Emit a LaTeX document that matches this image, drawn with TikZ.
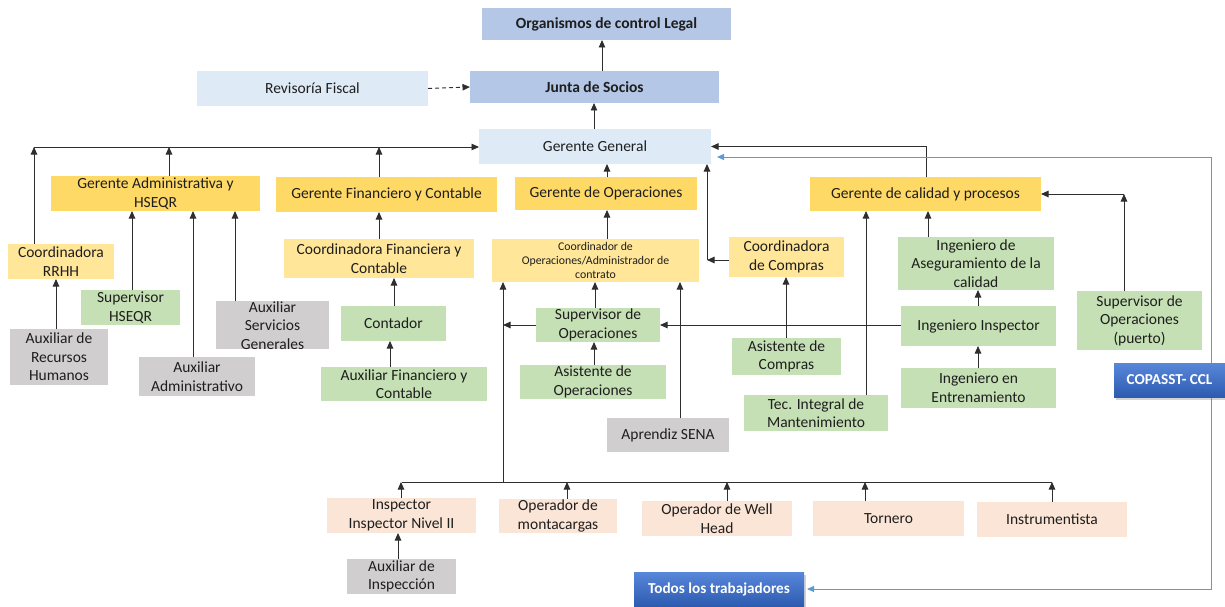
\documentclass[tikz,border=0pt]{standalone}
\usepackage{fontspec}
\setmainfont{Carlito}
\usetikzlibrary{arrows.meta,shadows}
\definecolor{cOrg}{HTML}{B4C7E7}
\definecolor{cLight}{HTML}{DEEBF7}
\definecolor{cGer}{HTML}{FFD966}
\definecolor{cCoord}{HTML}{FFE699}
\definecolor{cGreen}{HTML}{C5E0B4}
\definecolor{cGray}{HTML}{D0CECE}
\definecolor{cPeach}{HTML}{FBE5D6}
\definecolor{cLine}{HTML}{2E2E2E}
\definecolor{cBlueL}{HTML}{5B9BD5}
\definecolor{cTop}{HTML}{5887DA}
\definecolor{cBot}{HTML}{2D5BB0}
\definecolor{cTxt}{HTML}{1E1E1E}
\newcommand{\mainsz}{\fontsize{15.5}{18.6}\selectfont}
\newcommand{\smallsz}{\fontsize{11.8}{14.2}\selectfont}
\begin{document}
\begin{tikzpicture}[x=1pt,y=-1pt,
  box/.style={inner sep=0pt, outer sep=0pt, align=center, font=\mainsz, text=cTxt},
  sz/.style 2 args={minimum width=#1pt, minimum height=#2pt},
  arr/.style={draw=cLine, line width=0.95pt, -{Triangle[length=7.5pt,width=6.5pt]}},
  ln/.style={draw=cLine, line width=0.95pt},
  barr/.style={draw=cBlueL, line width=1pt, {Triangle[length=7pt,width=6pt]}-{Triangle[length=7pt,width=6pt]}},
  bluebox/.style={inner sep=0pt, outer sep=0pt, top color=cTop, bottom color=cBot, text=white,
    font=\fontsize{15.2}{18}\selectfont\bfseries,
    drop shadow={opacity=0.35, shadow xshift=1.5pt, shadow yshift=-2.5pt}}]
\useasboundingbox (0,0) rectangle (1225,607);

% top
\node[box, fill=cOrg, sz={249}{32}, font=\mainsz\bfseries] (org) at (606.5,24) {Organismos de control Legal};
\node[box, fill=cOrg, sz={249}{32}, font=\mainsz\bfseries] (junta) at (594.5,87) {Junta de Socios};
\node[box, fill=cLight, sz={231}{35}] (rev) at (312.5,88.5) {Revisoría Fiscal};
\node[box, fill=cLight, sz={232}{35}] (gg) at (595,146.5) {Gerente General};

% gerentes
\node[box, fill=cGer, sz={209}{35}] (gadm) at (155.5,193.5) {Gerente Administrativa y\\HSEQR};
\node[box, fill=cGer, sz={221}{35}] (gfin) at (386.5,194.5) {Gerente Financiero y Contable};
\node[box, fill=cGer, sz={182}{33}] (gops) at (606,193.5) {Gerente de Operaciones};
\node[box, fill=cGer, sz={231}{34}] (gcal) at (925.5,194) {Gerente de calidad y procesos};

% coordinadores
\node[box, fill=cCoord, sz={106}{35}] (rrhh) at (61,261.5) {Coordinadora\\RRHH};
\node[box, fill=cCoord, sz={190}{39}] (cfin) at (379,258.5) {Coordinadora Financiera y\\Contable};
\node[box, fill=cCoord, sz={207}{43}, font=\smallsz] (cops) at (595.5,260.5) {Coordinador de\\Operaciones/Administrador de\\contrato};
\node[box, fill=cCoord, sz={115}{40}] (ccomp) at (786.5,257) {Coordinadora\\de Compras};
\node[box, fill=cGreen, sz={156}{53}] (iac) at (976,263.5) {Ingeniero de\\Aseguramiento de la\\calidad};

% left branch
\node[box, fill=cGreen, sz={99}{35}] (suphse) at (130.5,307.5) {Supervisor\\HSEQR};
\node[box, fill=cGray, sz={98}{56}] (auxrh) at (59,357) {Auxiliar de\\Recursos\\Humanos};
\node[box, fill=cGray, sz={116}{39}] (auxadm) at (197,376.5) {Auxiliar\\Administrativo};
\node[box, fill=cGray, sz={113}{48}] (auxsg) at (272.5,325) {};
\node[box] at (272.5,325.5) {Auxiliar\\Servicios\\Generales};
\node[box, fill=cGreen, sz={105}{35}] (cont) at (393.5,323.5) {Contador};
\node[box, fill=cGreen, sz={166}{34}] (auxfin) at (404,384) {Auxiliar Financiero y\\Contable};

% middle
\node[box, fill=cGreen, sz={124}{34}] (supops) at (598,325) {Supervisor de\\Operaciones};
\node[box, fill=cGreen, sz={146}{34}] (asops) at (593,382) {Asistente de\\Operaciones};
\node[box, fill=cGray, sz={122}{34}] (sena) at (668,435) {Aprendiz SENA};
\node[box, fill=cGreen, sz={109}{37}] (ascomp) at (786.5,356.5) {Asistente de\\Compras};
\node[box, fill=cGreen, sz={144}{36}] (tec) at (816,413) {Tec. Integral de\\Mantenimiento};

% right
\node[box, fill=cGreen, sz={155}{40}] (ii) at (978.5,326) {Ingeniero Inspector};
\node[box, fill=cGreen, sz={155}{40}] (ient) at (978.5,388) {Ingeniero en\\Entrenamiento};
\node[box, fill=cGreen, sz={125}{59}] (supp) at (1139.5,320.5) {Supervisor de\\Operaciones\\(puerto)};

% bottom
\node[box, fill=cPeach, sz={149}{35}] (insp) at (401.5,515.5) {Inspector\\Inspector Nivel II};
\node[box, fill=cPeach, sz={118}{34}] (montac) at (558,516) {Operador de\\montacargas};
\node[box, fill=cPeach, sz={150}{35}] (well) at (717,518.5) {Operador de Well\\Head};
\node[box, fill=cPeach, sz={151}{35}] (torn) at (888.5,518.5) {Tornero};
\node[box, fill=cPeach, sz={150}{35}] (instr) at (1052,519.5) {Instrumentista};
\node[box, fill=cGray, sz={109}{35}] (auxinsp) at (401.5,576.5) {Auxiliar de\\Inspección};
\node[bluebox, sz={170}{34}] (todos) at (719,589) {Todos los trabajadores};

% connectors top
\draw[arr] (junta.north -| 602,0) -- (org.south -| 602,0);
\draw[arr] (gg.north -| 594,0) -- (junta.south -| 594,0);
\draw[arr, dash pattern=on 4pt off 3pt] (rev.east) -- (junta.west);

% left bus
\coordinate (busL) at (34,147);
\draw[arr] (busL) -- (gg.west |- busL);
\draw[arr] (rrhh.north -| busL) -- (busL);
\draw[arr] (gadm.north -| 169,0) -- (busL -| 169,0);
\draw[arr] (gfin.north -| 379,0) -- (busL -| 379,0);

% operations
\draw[arr] (gops.north -| 607,0) -- (gg.south -| 607,0);
\draw[arr] (cops.north -| 607,0) -- (gops.south -| 607,0);
\coordinate (cc) at (707,260);
\draw[arr] (ccomp.west |- cc) -- (cc);
\draw[arr] (cc) -- (gg.south -| cc);
\draw[arr] (gcal.north -| 926,0) |- (gg.east);

% calidad
\coordinate (cp) at (1124,194);
\draw[arr] (supp.north -| cp) -- (cp);
\draw[arr] (cp) -- (gcal.east |- cp);
\draw[arr] (iac.north -| 928,0) -- (gcal.south -| 928,0);
\draw[arr] (tec.north -| 866,0) -- (gcal.south -| 866,0);
\draw[arr] (ii.north -| 978,0) -- (iac.south -| 978,0);
\draw[arr] (ient.north -| 978,0) -- (ii.south -| 978,0);
\draw[arr] (ii.west |- 0,325) -- (supops.east |- 0,325);

% ops column
\coordinate (busB) at (503,482);
\draw[arr] (supops.west |- 0,325) -- (busB |- 0,325);
\draw[arr] (busB) -- (cops.south -| busB);
\draw[arr] (supops.north -| 595,0) -- (cops.south -| 595,0);
\draw[arr] (asops.north -| 594,0) -- (supops.south -| 594,0);
\draw[arr] (sena.north -| 680,0) -- (cops.south -| 680,0);
\draw[arr] (ascomp.north -| 786,0) -- (ccomp.south -| 786,0);

% finance
\draw[arr] (cfin.north -| 379,0) -- (gfin.south -| 379,0);
\draw[arr] (cont.north -| 394,0) -- (cfin.south -| 394,0);
\draw[arr] (auxfin.north -| 390,0) -- (cont.south -| 390,0);

% admin
\draw[arr] (suphse.north -| 132,0) -- (gadm.south -| 132,0);
\draw[arr] (auxadm.north -| 193,0) -- (gadm.south -| 193,0);
\draw[arr] (auxsg.north -| 235,0) -- (gadm.south -| 235,0);
\draw[arr] (auxrh.north -| 56,0) -- (rrhh.south -| 56,0);

% bottom bus
\draw[ln] (insp.north |- busB) -- (instr.north |- busB);
\draw[arr] (insp.north -| 401,0) -- (busB -| 401,0);
\draw[arr] (montac.north -| 567,0) -- (busB -| 567,0);
\draw[arr] (well.north -| 727,0) -- (busB -| 727,0);
\draw[arr] (torn.north -| 865,0) -- (busB -| 865,0);
\draw[arr] (instr.north) -- (instr.north |- busB);
\draw[arr] (auxinsp.north -| 398,0) -- (insp.south -| 398,0);

% blue COPASST loop
\draw[barr, shorten <=3pt, shorten >=6pt] (todos.east) -| (1211,157) -- (gg.east |- 0,157);
\node[bluebox, sz={111}{34}] (copasst) at (1169.5,380) {COPASST- CCL};
\end{tikzpicture}
\end{document}
